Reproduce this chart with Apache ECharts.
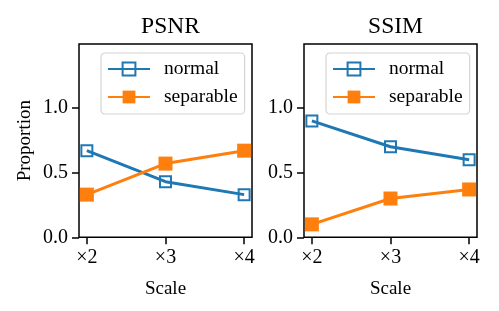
<!DOCTYPE html>
<html>
<head>
<meta charset="utf-8">
<script src="https://cdn.jsdelivr.net/npm/echarts@6/dist/echarts.min.js"></script>
<style>
html,body{margin:0;padding:0;background:#fff;}
#c{width:499px;height:311px;}
</style>
</head>
<body>
<div id="c"></div>
<script>
var scales = [2, 3, 4];
var scaleLabels = ['×2', '×3', '×4'];
var yTicks = [0, 0.5, 1.0];
var titles = ['PSNR', 'SSIM'];
var psnrNormal = [0.67, 0.43, 0.33];
var psnrSeparable = [0.33, 0.57, 0.67];
var ssimNormal = [0.90, 0.70, 0.60];
var ssimSeparable = [0.10, 0.30, 0.37];

var FONT = 'Liberation Serif';
var BLUE = '#1f77b4', ORANGE = '#ff7f0e';

function pairs(vals) { return scales.map(function (s, i) { return [s, vals[i]]; }); }

var grids = [
  {left: 79, top: 44, width: 173, height: 193.3},
  {left: 304, top: 44, width: 173, height: 193.3}
];

function xAxis(i) {
  return {
    type: 'value', gridIndex: i, min: 1.9, max: 4.1,
    name: 'Scale', nameLocation: 'middle', nameGap: 42,
    nameTextStyle: {fontFamily: FONT, fontSize: 19, color: '#000'},
    axisLine: {show: false},
    splitLine: {show: false},
    axisTick: {show: true, length: 7, lineStyle: {color: '#000', width: 1.5}, customValues: scales},
    axisLabel: {
      customValues: scales, margin: 10,
      fontFamily: FONT, fontSize: 20, color: '#000',
      formatter: function (v) { var k = scales.indexOf(Math.round(v)); return k >= 0 ? scaleLabels[k] : ''; }
    }
  };
}
function yAxis(i, withName) {
  return {
    type: 'value', gridIndex: i, min: 0, max: 1.495,
    name: withName ? 'Proportion' : '', nameLocation: 'middle', nameGap: 44,
    nameTextStyle: {fontFamily: FONT, fontSize: 19, color: '#000'},
    axisLine: {show: false},
    splitLine: {show: false},
    axisTick: {show: true, length: 7, lineStyle: {color: '#000', width: 1.5}, customValues: yTicks},
    axisLabel: {
      customValues: yTicks, margin: 11,
      fontFamily: FONT, fontSize: 20, color: '#000',
      formatter: function (v) { return v.toFixed(1); }
    }
  };
}

function normalSeries(i, vals) {
  return {
    name: 'normal', type: 'line', xAxisIndex: i, yAxisIndex: i, data: pairs(vals),
    symbol: 'rect', symbolSize: 11, z: 2,
    lineStyle: {color: BLUE, width: 3},
    itemStyle: {color: 'rgba(255,255,255,0)', borderColor: BLUE, borderWidth: 2},
    emphasis: {disabled: true}
  };
}
function sepSeries(i, vals) {
  return {
    name: 'separable', type: 'line', xAxisIndex: i, yAxisIndex: i, data: pairs(vals),
    symbol: 'rect', symbolSize: 14, z: 3,
    lineStyle: {color: ORANGE, width: 3},
    itemStyle: {color: ORANGE, borderWidth: 0},
    emphasis: {disabled: true}
  };
}

function legend(left) {
  return {
    left: left, top: 53, orient: 'vertical',
    data: ['normal', 'separable'],
    itemWidth: 42, itemHeight: 16, itemGap: 8,
    padding: [6, 7, 7, 6],
    backgroundColor: 'rgba(255,255,255,0.8)',
    borderColor: '#d4d4d4', borderWidth: 1.2, borderRadius: 4,
    selectedMode: false,
    textStyle: {fontFamily: FONT, fontSize: 19.5, color: '#000', padding: [0, 0, 0, 9], lineHeight: 20}
  };
}

var chart = echarts.init(document.getElementById('c'), null, {renderer: 'canvas'});
chart.setOption({
  animation: false,
  backgroundColor: '#fff',
  title: [
    {text: titles[0], left: 165.5, top: 10, textAlign: 'center', textStyle: {fontFamily: FONT, fontSize: 23.5, fontWeight: 'normal', color: '#000'}},
    {text: titles[1], left: 390.5, top: 10, textAlign: 'center', textStyle: {fontFamily: FONT, fontSize: 23.5, fontWeight: 'normal', color: '#000'}}
  ],
  grid: grids.map(function (g) { return Object.assign({show: true, borderColor: '#000', borderWidth: 1.5, backgroundColor: 'transparent'}, g); }),
  xAxis: [xAxis(0), xAxis(1)],
  yAxis: [yAxis(0, true), yAxis(1, false)],
  legend: [legend(101), legend(326)],
  series: [
    normalSeries(0, psnrNormal), sepSeries(0, psnrSeparable),
    normalSeries(1, ssimNormal), sepSeries(1, ssimSeparable)
  ]
});
</script>
</body>
</html>
